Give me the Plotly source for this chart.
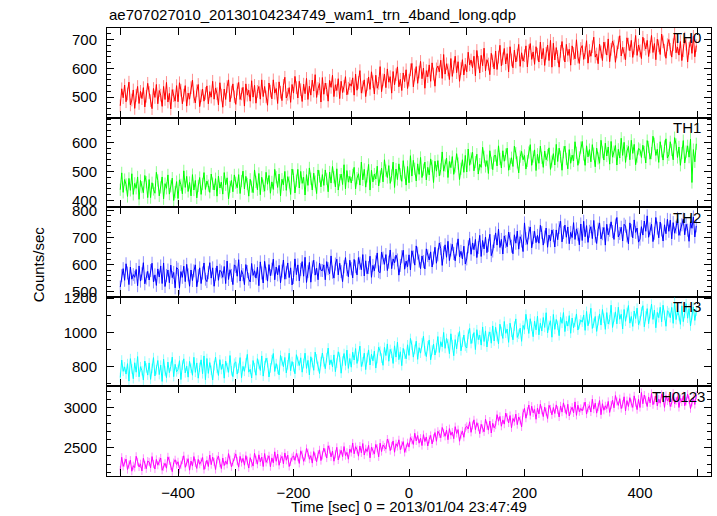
import plotly.graph_objects as go
from plotly.subplots import make_subplots

TITLE = "ae707027010_20130104234749_wam1_trn_4band_long.qdp"
X_TITLE = "Time [sec] 0 = 2013/01/04 23:47:49"
Y_TITLE = "Counts/sec"
BANDS = ["TH0", "TH1", "TH2", "TH3", "TH0123"]

# time bins (sec), 2.5 s spacing
TIME = [-500 + 2.5 * i for i in range(400)]

TH0 = [470, 529, 498, 542, 484, 511, 552, 473, 490, 525, 461, 506, 537, 478, 520, 495, 533, 466, 503, 548,
       516, 488, 460, 530, 499, 544, 477, 523, 507, 468, 537, 492, 551, 483, 513, 459, 526, 505, 486, 540,
       484, 550, 524, 477, 507, 540, 469, 514, 493, 533, 559, 501, 480, 522, 544, 467, 505, 528, 486, 513,
       539, 477, 519, 500, 555, 493, 532, 512, 473, 550, 507, 465, 528, 492, 537, 560, 484, 518, 546, 501,
       475, 528, 551, 492, 511, 534, 469, 546, 507, 524, 486, 557, 500, 541, 479, 520, 537, 493, 560, 502,
       537, 501, 472, 549, 521, 494, 560, 514, 530, 478, 553, 517, 488, 541, 569, 497, 510, 533, 482, 544,
       514, 572, 533, 497, 555, 526, 485, 545, 512, 565, 492, 538, 507, 559, 521, 578, 499, 530, 547, 483,
       568, 510, 549, 527, 486, 558, 534, 576, 502, 543, 523, 564, 495, 555, 516, 538, 571, 508, 531, 547,
       538, 567, 507, 580, 524, 551, 592, 514, 535, 560, 502, 544, 570, 527, 588, 554, 511, 576, 531, 548,
       606, 519, 560, 580, 533, 598, 552, 571, 514, 589, 543, 578, 605, 536, 562, 523, 584, 554, 595, 530,
       559, 595, 617, 536, 577, 606, 548, 587, 624, 564, 601, 531, 592, 571, 612, 555, 619, 580, 538, 598,
       608, 588, 628, 565, 648, 580, 616, 595, 561, 634, 572, 605, 642, 585, 623, 555, 599, 630, 577, 614,
       588, 656, 612, 629, 602, 642, 574, 662, 621, 584, 645, 609, 670, 591, 630, 615, 578, 652, 626, 598,
       660, 596, 639, 680, 609, 633, 669, 615, 651, 588, 675, 629, 602, 663, 622, 646, 683, 607, 654, 625,
       644, 678, 605, 661, 686, 631, 657, 614, 675, 649, 622, 691, 633, 669, 610, 652, 681, 627, 697, 604,
       687, 629, 672, 641, 604, 659, 693, 649, 622, 683, 645, 666, 611, 678, 652, 633, 699, 639, 617, 669,
       679, 631, 654, 696, 618, 662, 642, 675, 708, 639, 650, 616, 684, 657, 627, 691, 670, 646, 702, 623,
       666, 695, 677, 621, 657, 689, 713, 643, 673, 652, 630, 706, 684, 661, 697, 638, 669, 714, 645, 681,
       661, 634, 708, 683, 667, 697, 641, 674, 714, 655, 686, 630, 701, 678, 648, 719, 692, 663, 635, 682,
       700, 666, 639, 682, 720, 654, 674, 646, 693, 627, 661, 705, 684, 622, 669, 698, 652, 711, 640, 679]

TH1 = [437, 495, 428, 472, 455, 414, 476, 435, 492, 421, 459, 442, 481, 404, 469, 446, 427, 486, 463, 410,
       472, 410, 461, 438, 425, 497, 469, 416, 445, 481, 406, 458, 442, 488, 422, 449, 477, 400, 429, 465,
       407, 471, 454, 423, 502, 445, 483, 431, 462, 416, 489, 436, 469, 409, 450, 479, 421, 457, 496, 438,
       467, 451, 428, 491, 458, 436, 475, 415, 484, 443, 463, 422, 496, 454, 478, 406, 447, 469, 430, 488,
       461, 444, 489, 424, 467, 501, 440, 483, 457, 415, 473, 448, 427, 505, 464, 437, 493, 420, 480, 451,
       432, 497, 456, 486, 425, 464, 438, 507, 480, 445, 491, 416, 473, 454, 500, 435, 482, 462, 421, 508,
       486, 426, 468, 507, 443, 500, 459, 480, 419, 489, 452, 512, 475, 436, 494, 465, 424, 505, 483, 447,
       489, 452, 505, 474, 430, 498, 460, 517, 480, 447, 509, 436, 470, 491, 455, 523, 440, 503, 463, 483,
       460, 488, 514, 440, 477, 492, 453, 532, 471, 507, 446, 483, 524, 436, 504, 464, 491, 474, 518, 450,
       482, 511, 464, 540, 503, 479, 520, 459, 486, 532, 445, 508, 472, 526, 490, 466, 537, 496, 453, 517,
       461, 554, 484, 538, 509, 467, 526, 490, 548, 479, 506, 532, 471, 514, 488, 543, 518, 462, 535, 501,
       537, 485, 507, 567, 501, 520, 546, 479, 534, 513, 551, 490, 517, 561, 527, 472, 509, 540, 497, 555,
       498, 577, 521, 545, 566, 502, 532, 559, 491, 525, 514, 583, 550, 517, 537, 493, 571, 529, 506, 554,
       555, 519, 588, 543, 512, 571, 535, 558, 580, 504, 526, 547, 517, 587, 563, 531, 495, 551, 569, 540,
       555, 508, 536, 565, 592, 521, 551, 574, 503, 559, 528, 587, 547, 514, 570, 540, 556, 581, 507, 534,
       561, 522, 593, 534, 580, 551, 504, 566, 587, 543, 509, 575, 528, 556, 536, 602, 564, 521, 548, 582,
       603, 558, 521, 588, 550, 575, 533, 592, 561, 516, 580, 545, 528, 607, 566, 539, 597, 553, 584, 525,
       603, 549, 568, 589, 522, 576, 546, 614, 555, 600, 531, 570, 586, 540, 607, 562, 593, 523, 551, 579,
       575, 548, 590, 567, 529, 606, 584, 542, 563, 621, 595, 555, 576, 531, 602, 569, 539, 586, 612, 546,
       557, 602, 574, 540, 616, 593, 548, 584, 521, 563, 606, 529, 568, 588, 549, 611, 462, 575, 533, 595]

TH2 = [517, 559, 585, 542, 603, 569, 526, 591, 546, 563, 553, 582, 522, 595, 539, 566, 607, 529, 550, 575,
       543, 578, 605, 536, 562, 523, 584, 554, 595, 530, 606, 519, 560, 580, 533, 598, 552, 571, 514, 589,
       583, 513, 574, 553, 594, 537, 601, 562, 520, 580, 541, 577, 599, 518, 559, 588, 530, 569, 606, 546,
       537, 570, 607, 550, 588, 520, 564, 595, 542, 579, 573, 553, 593, 530, 613, 545, 581, 560, 526, 599,
       593, 557, 618, 539, 578, 563, 526, 600, 574, 546, 536, 604, 560, 577, 550, 590, 522, 610, 569, 532,
       612, 566, 539, 600, 559, 583, 620, 544, 591, 562, 597, 533, 576, 617, 546, 570, 606, 552, 588, 525,
       552, 621, 563, 599, 540, 582, 611, 557, 627, 534, 574, 608, 535, 591, 616, 561, 587, 544, 605, 579,
       578, 599, 544, 611, 585, 566, 632, 572, 550, 602, 620, 562, 605, 574, 537, 592, 626, 582, 555, 616,
       585, 551, 619, 592, 562, 626, 605, 581, 637, 558, 614, 566, 589, 631, 553, 597, 577, 610, 643, 574,
       570, 646, 624, 601, 637, 578, 609, 654, 585, 621, 606, 635, 617, 561, 597, 629, 653, 583, 613, 592,
       636, 580, 651, 628, 598, 669, 642, 613, 585, 632, 611, 584, 658, 633, 617, 647, 591, 624, 664, 605,
       636, 680, 659, 597, 644, 673, 627, 686, 615, 654, 675, 641, 614, 657, 695, 629, 649, 621, 668, 602,
       621, 666, 697, 638, 680, 655, 693, 626, 663, 708, 630, 689, 658, 702, 644, 671, 712, 633, 650, 685,
       717, 672, 731, 663, 693, 639, 706, 685, 666, 720, 696, 668, 640, 710, 679, 724, 657, 703, 687, 648,
       754, 696, 675, 717, 739, 662, 700, 723, 681, 708, 679, 745, 719, 672, 702, 735, 664, 709, 688, 728,
       707, 665, 728, 692, 737, 760, 684, 718, 746, 701, 739, 677, 719, 700, 755, 693, 732, 712, 673, 750,
       689, 760, 703, 744, 682, 723, 740, 696, 763, 705, 678, 731, 754, 695, 714, 737, 672, 749, 710, 727,
       758, 722, 693, 746, 774, 702, 715, 738, 687, 749, 742, 706, 677, 754, 726, 699, 765, 719, 735, 683,
       694, 740, 709, 761, 723, 780, 701, 732, 749, 685, 716, 774, 735, 699, 757, 728, 687, 747, 714, 767,
       723, 764, 695, 755, 716, 738, 771, 708, 731, 747, 768, 710, 749, 727, 686, 758, 734, 776, 702, 743]

TH3 = [737, 839, 773, 799, 757, 818, 716, 847, 787, 730, 823, 768, 859, 741, 800, 777, 722, 833, 793, 751,
       822, 726, 790, 853, 746, 782, 836, 754, 809, 714, 844, 775, 736, 827, 765, 802, 856, 742, 814, 770,
       784, 835, 725, 810, 846, 764, 803, 739, 831, 791, 750, 855, 767, 822, 733, 796, 840, 759, 863, 724,
       848, 761, 824, 779, 722, 806, 856, 790, 749, 841, 784, 815, 733, 833, 794, 767, 865, 776, 742, 820,
       828, 757, 791, 853, 736, 802, 773, 822, 872, 768, 785, 734, 836, 795, 750, 847, 814, 778, 863, 745,
       806, 850, 824, 740, 793, 841, 877, 772, 818, 785, 752, 866, 834, 800, 854, 764, 811, 879, 776, 830,
       799, 759, 870, 831, 807, 852, 768, 819, 879, 790, 837, 752, 858, 824, 779, 885, 846, 802, 760, 830,
       880, 828, 788, 853, 909, 811, 840, 799, 869, 771, 821, 887, 856, 762, 833, 877, 807, 897, 790, 848,
       797, 885, 839, 906, 819, 859, 920, 801, 828, 879, 783, 852, 898, 810, 873, 834, 891, 792, 847, 914,
       891, 850, 808, 913, 865, 933, 832, 901, 878, 819, 922, 856, 943, 841, 887, 806, 907, 874, 846, 928,
       866, 965, 925, 856, 901, 949, 843, 911, 879, 940, 978, 892, 859, 922, 956, 840, 897, 932, 868, 910,
       976, 883, 946, 916, 1000, 907, 965, 935, 876, 992, 928, 864, 958, 904, 972, 1006, 893, 943, 985, 919,
       909, 989, 1024, 935, 964, 999, 900, 1016, 958, 984, 926, 1032, 947, 1009, 915, 977, 1003, 937, 1038, 950,
       1030, 976, 933, 1048, 1006, 965, 1064, 995, 1020, 942, 1054, 1000, 957, 1037, 1079, 971, 990, 1025, 948, 1041,
       1018, 1106, 1048, 994, 1080, 1036, 975, 1066, 1015, 1095, 986, 1054, 1008, 1087, 1029, 1115, 997, 1042, 1068, 972,
       1105, 1018, 1076, 1042, 981, 1089, 1053, 1116, 1005, 1066, 1037, 1098, 995, 1084, 1027, 1060, 1108, 1014, 1049, 1073,
       1060, 1102, 1012, 1123, 1039, 1079, 1141, 1023, 1054, 1093, 1006, 1069, 1108, 1043, 1134, 1083, 1018, 1116, 1049, 1074,
       1159, 1029, 1089, 1120, 1050, 1147, 1077, 1106, 1020, 1134, 1065, 1116, 1157, 1054, 1093, 1035, 1125, 1081, 1142, 1045,
       1068, 1122, 1156, 1033, 1096, 1139, 1051, 1110, 1165, 1076, 1131, 1027, 1117, 1086, 1147, 1062, 1159, 1100, 1036, 1127,
       1116, 1086, 1146, 1053, 1177, 1075, 1128, 1098, 1047, 1155, 1063, 1112, 1168, 1083, 1140, 1038, 1103, 1149, 1070, 1125]

TH0123 = [2226, 2384, 2271, 2319, 2362, 2233, 2293, 2348, 2212, 2280, 2257, 2396, 2329, 2264, 2303, 2215, 2371, 2288, 2242, 2337,
          2326, 2254, 2392, 2301, 2239, 2358, 2286, 2332, 2375, 2223, 2267, 2310, 2249, 2389, 2341, 2277, 2206, 2318, 2353, 2295,
          2328, 2235, 2291, 2349, 2402, 2260, 2320, 2366, 2224, 2337, 2275, 2393, 2313, 2246, 2358, 2298, 2330, 2381, 2233, 2287,
          2347, 2270, 2412, 2293, 2386, 2327, 2233, 2358, 2399, 2311, 2244, 2375, 2282, 2337, 2298, 2429, 2354, 2267, 2321, 2390,
          2425, 2336, 2262, 2395, 2319, 2370, 2286, 2404, 2342, 2251, 2379, 2310, 2275, 2433, 2352, 2298, 2414, 2325, 2387, 2269,
          2430, 2321, 2359, 2402, 2268, 2376, 2315, 2451, 2334, 2423, 2285, 2364, 2395, 2303, 2437, 2347, 2410, 2270, 2326, 2381,
          2401, 2346, 2431, 2384, 2308, 2463, 2418, 2334, 2377, 2492, 2441, 2360, 2403, 2312, 2454, 2389, 2329, 2422, 2475, 2343,
          2408, 2497, 2441, 2374, 2525, 2479, 2389, 2461, 2335, 2420, 2506, 2351, 2430, 2470, 2392, 2516, 2405, 2444, 2360, 2484,
          2443, 2560, 2426, 2514, 2479, 2397, 2522, 2439, 2553, 2411, 2488, 2454, 2531, 2377, 2508, 2462, 2423, 2542, 2495, 2389,
          2558, 2454, 2536, 2510, 2484, 2608, 2562, 2466, 2523, 2585, 2446, 2550, 2517, 2599, 2477, 2531, 2577, 2444, 2491, 2563,
          2509, 2627, 2593, 2542, 2680, 2585, 2652, 2557, 2619, 2528, 2663, 2577, 2634, 2523, 2605, 2653, 2548, 2620, 2688, 2581,
          2704, 2672, 2625, 2751, 2686, 2642, 2719, 2600, 2737, 2656, 2695, 2613, 2761, 2677, 2725, 2581, 2663, 2708, 2630, 2746,
          2765, 2732, 2821, 2691, 2777, 2845, 2724, 2810, 2758, 2674, 2790, 2739, 2697, 2854, 2772, 2718, 2830, 2683, 2803, 2746,
          2780, 2909, 2828, 2887, 2766, 2844, 2792, 2929, 2875, 2806, 2898, 2747, 2861, 2823, 2916, 2786, 2880, 2839, 2758, 2932,
          2986, 2865, 2950, 3028, 2899, 3013, 2931, 2973, 2852, 2991, 2918, 3037, 2963, 2885, 3002, 2944, 2861, 3024, 2979, 2907,
          2997, 2923, 3029, 2967, 2880, 3016, 2940, 3054, 2979, 2914, 3037, 2892, 2960, 3001, 2930, 3066, 2900, 3025, 2945, 2985,
          2955, 3011, 3064, 2916, 2989, 3020, 2941, 3099, 2977, 3050, 2927, 3002, 3083, 2908, 3044, 2963, 3018, 2984, 3072, 2936,
          3030, 3088, 2993, 3145, 3072, 3023, 3106, 2984, 3037, 3129, 2955, 3082, 3009, 3118, 3046, 2998, 3140, 3057, 2971, 3099,
          2997, 3182, 3043, 3151, 3093, 3009, 3127, 3054, 3171, 3032, 3086, 3139, 3017, 3102, 3050, 3160, 3111, 2998, 3145, 3077,
          3113, 3009, 3054, 3173, 3042, 3079, 3131, 2997, 3107, 3065, 3141, 3019, 3073, 3161, 3094, 2983, 3058, 3119, 3034, 3150]

# statistical 1-sigma errors (counts/sec) per band
ERRORS = [22, 21, 24, 28, 50]

SERIES = [TH0, TH1, TH2, TH3, TH0123]
COLORS = ["#ff0000", "#00ff00", "#0000ff", "#00ffff", "#ff00ff"]
ERR_COLORS = ["rgba(255,0,0,0.45)", "rgba(0,255,0,0.45)", "rgba(0,0,255,0.45)",
              "rgba(0,255,255,0.45)", "rgba(255,0,255,0.45)"]
Y_RANGES = [[429, 740], [377, 685], [481, 812], [685, 1208], [2153, 3257]]
Y_DTICK = [100, 100, 100, 200, 500]
Y_MINOR = [20, 20, 20, 100, 100]
X_TICKS = [-500, -400, -300, -200, -100, 0, 100, 200, 300, 400, 500]
X_TICKTEXT = ["", "\u2212400", "", "\u2212200", "", "0", "", "200", "", "400", ""]

FONT = "Liberation Sans, Arial, Helvetica, sans-serif"

fig = make_subplots(rows=5, cols=1, shared_xaxes=True, vertical_spacing=0)

for i, (ys, col, ecol) in enumerate(zip(SERIES, COLORS, ERR_COLORS)):
    fig.add_trace(go.Scatter(
        x=TIME, y=ys, mode="lines",
        line=dict(color=col, width=1),
        error_y=dict(type="constant", value=ERRORS[i], color=ecol,
                     thickness=1, width=0),
        showlegend=False, hoverinfo="skip"), row=i + 1, col=1)

    fig.update_yaxes(row=i + 1, col=1,
                     range=Y_RANGES[i], dtick=Y_DTICK[i], tick0=0,
                     ticks="inside", ticklen=7, tickcolor="black",
                     showline=True, linecolor="black", linewidth=1,
                     mirror="ticks", showgrid=False, zeroline=False,
                     tickfont=dict(family=FONT, size=15, color="black"),
                     ticklabelstandoff=6,
                     minor=dict(ticks="inside", ticklen=4, dtick=Y_MINOR[i],
                                tick0=0, tickcolor="black", showgrid=False))
    fig.update_xaxes(row=i + 1, col=1,
                     range=[-523, 523], tickvals=X_TICKS, ticktext=X_TICKTEXT,
                     ticks="inside", ticklen=7, tickcolor="black",
                     showline=True, linecolor="black", linewidth=1,
                     mirror="ticks", showgrid=False, zeroline=False,
                     tickfont=dict(family=FONT, size=15, color="black"),
                     ticklabelstandoff=3,
                     showticklabels=(i == 4))

annotations = [
    dict(text=TITLE, x=0, y=1.031, xref="paper", yref="paper",
         xanchor="left", yanchor="middle", showarrow=False,
         font=dict(family=FONT, size=15, color="black")),
    dict(text=X_TITLE, x=0.5, y=-0.069, xref="paper", yref="paper",
         xanchor="center", yanchor="middle", showarrow=False,
         font=dict(family=FONT, size=15, color="black")),
    dict(text=Y_TITLE, x=-0.114, y=0.473, xref="paper", yref="paper",
         xanchor="center", yanchor="middle", textangle=-90, showarrow=False,
         font=dict(family=FONT, size=15, color="black")),
]
for i, name in enumerate(BANDS):
    annotations.append(dict(
        text=name, x=0.9868 if i < 4 else 0.9935, y=0.9777 - 0.2 * i,
        xref="paper", yref="paper", xanchor="right", yanchor="middle",
        showarrow=False, font=dict(family=FONT, size=15, color="black")))

fig.update_layout(
    width=717, height=516,
    margin=dict(l=107, r=6, t=28, b=40),
    paper_bgcolor="white", plot_bgcolor="white",
    annotations=annotations,
)

fig.write_html("out.html",
               config={"displayModeBar": False},
               post_script="document.body.style.margin='0px';"
                           "document.body.style.overflow='hidden';")
